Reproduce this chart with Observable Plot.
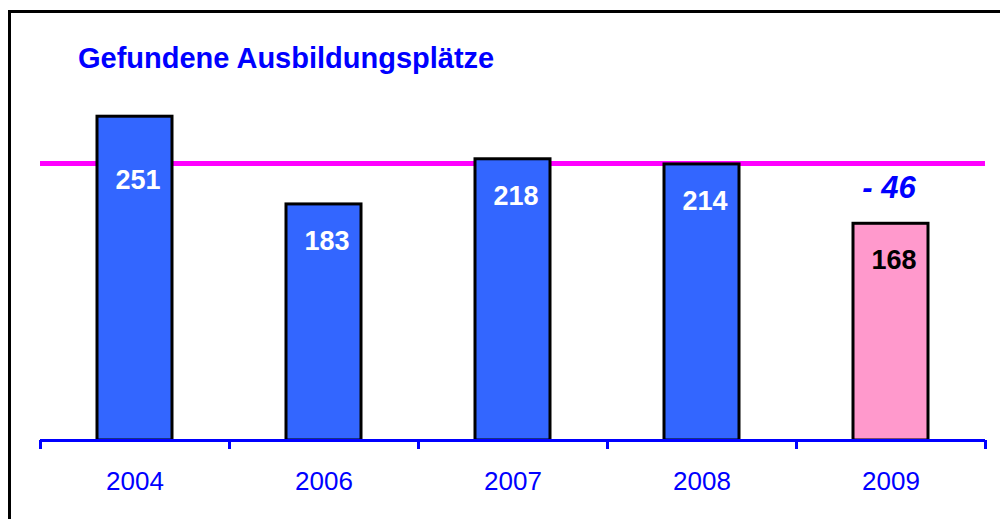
<!DOCTYPE html>
<html><head><meta charset="utf-8">
<script src="https://cdn.jsdelivr.net/npm/d3@7"></script>
<script src="https://cdn.jsdelivr.net/npm/@observablehq/plot@0.6"></script>
<style>
body{margin:0;background:#fff;overflow:hidden}
#wrap{position:relative;width:1000px;height:519px;overflow:hidden;font-family:"Liberation Sans",Arial,sans-serif}
#frame{position:absolute;left:8px;top:10px;width:1100px;height:600px;border:3px solid #000;box-sizing:border-box}
#title{position:absolute;left:78px;top:44px;font-size:29px;line-height:29px;font-weight:bold;color:#0000ff;white-space:nowrap}
#chart{position:absolute;left:0;top:0}
</style></head><body>
<div id="wrap"><div id="frame"></div><div id="chart"></div><div id="title"></div></div>
<script>
const titleText = "Gefundene Ausbildungsplätze";
const years = ["2004", "2006", "2007", "2008", "2009"];
const values = [251, 183, 218, 214, 168];
const isCurrent = [false, false, false, false, true];
const referenceValue = 214;

document.getElementById("title").textContent = titleText;

const data = years.map((year, i) => ({year, value: values[i], current: isCurrent[i]}));
const current = data.filter(d => d.current);
const BLUE = "#3366ff", PINK = "#ff99cc", AXIS = "#0000ff";
const FONT = "Liberation Sans, Arial, sans-serif";

const chart = Plot.plot({
  width: 1000,
  height: 519,
  marginLeft: 40,
  marginRight: 15,
  marginTop: 53,
  marginBottom: 79,
  style: {fontFamily: FONT, fontSize: "26px", color: AXIS, background: "transparent", overflow: "visible"},
  x: {domain: years, padding: 0, tickSize: 0, tickPadding: 31, label: null},
  y: {domain: [0, 300], axis: null},
  color: {type: "identity"},
  marks: [
    Plot.ruleY([referenceValue], {stroke: "#ff00ff", strokeWidth: 5, dy: -1}),
    Plot.barY(data, {
      x: "year", y: "value",
      fill: d => d.current ? PINK : BLUE,
      stroke: "#000", strokeWidth: 3,
      insetLeft: 57, insetRight: 57
    }),
    Plot.ruleY([0], {stroke: AXIS, strokeWidth: 3}),
    Plot.ruleX(years, {x: d => d, y1: 0, y2: 0, insetBottom: -9, dx: -94.5, stroke: AXIS, strokeWidth: 3}),
    Plot.ruleX(years.slice(-1), {x: d => d, y1: 0, y2: 0, insetBottom: -9, dx: 94.5, stroke: AXIS, strokeWidth: 3}),
    Plot.text(data, {
      filter: (d, i) => i === 0,
      x: "year", y: "value", text: d => String(d.value),
      dy: 64, dx: 3, fill: "#ffffff", fontSize: 27, fontWeight: "bold"
    }),
    Plot.text(data, {
      filter: (d, i) => i !== 0,
      x: "year", y: "value", text: d => String(d.value),
      dy: 37, dx: 3, fill: d => d.current ? "#000000" : "#ffffff", fontSize: 27, fontWeight: "bold"
    }),
    Plot.text(current, {
      x: "year", y: "value", text: d => "- " + (referenceValue - d.value),
      dy: -36, dx: -2, fill: AXIS, fontSize: 31, fontWeight: "bold", fontStyle: "italic"
    })
  ]
});
document.getElementById("chart").appendChild(chart);
</script>
</body></html>
